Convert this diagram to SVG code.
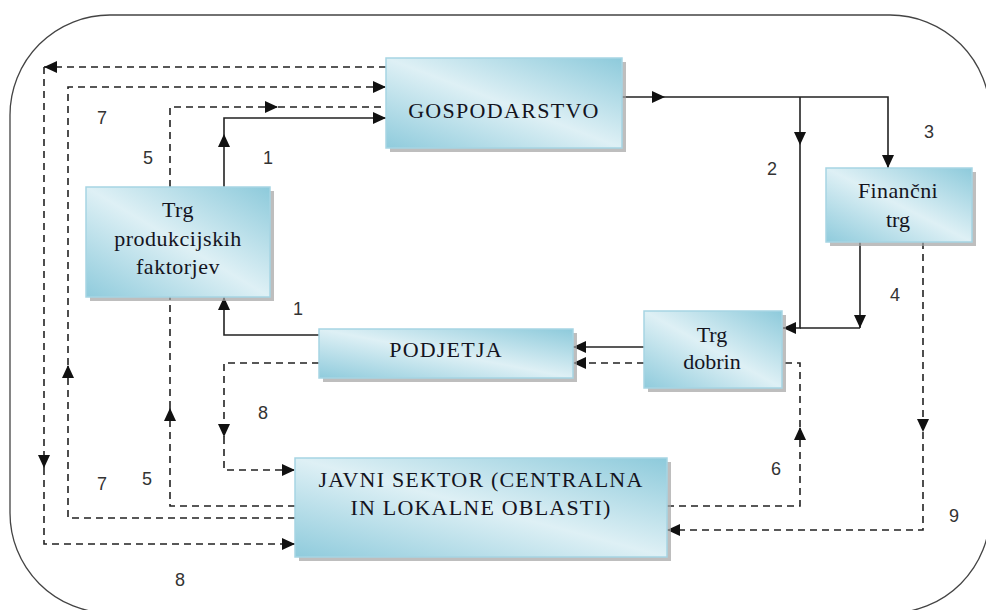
<svg xmlns="http://www.w3.org/2000/svg" width="986" height="610" viewBox="0 0 986 610">
<defs>
<linearGradient id="boxGrad" x1="0" y1="1" x2="1" y2="0">
<stop offset="0" stop-color="#8fcbdc"/>
<stop offset="0.5" stop-color="#def0f5"/>
<stop offset="1" stop-color="#8dcadb"/>
</linearGradient>
<marker id="arr" markerWidth="14" markerHeight="12" refX="13" refY="6" orient="auto" markerUnits="userSpaceOnUse">
<path d="M0,0 L13,6 L0,12 Z" fill="#111"/>
</marker>
</defs>
<style>
.box{fill:url(#boxGrad);stroke:#a6d5e3;stroke-width:1.5}
.shadow{fill:#a3a3a3;opacity:0.7}
.nt{font-size:22px;fill:#14141e;text-anchor:middle}
.sol{fill:none;stroke:#222;stroke-width:1.6}
.das{fill:none;stroke:#222;stroke-width:1.6;stroke-dasharray:7 5}
.lbl{font-size:18px;fill:#333;text-anchor:middle}
</style>
<rect x="10" y="15" width="980" height="598" rx="100" ry="100" fill="none" stroke="#444" stroke-width="1.3"/>
<g id="connectors">
<path class="sol" d="M224,187 V134" marker-end="url(#arr)"/>
<path class="sol" d="M224,134 V118 H386" marker-end="url(#arr)"/>
<path class="sol" d="M319,335 H224 V297" marker-end="url(#arr)"/>
<path class="sol" d="M622,97 H665" marker-end="url(#arr)"/>
<path class="sol" d="M665,97 H888 V168" marker-end="url(#arr)"/>
<path class="sol" d="M800,97 V145" marker-end="url(#arr)"/>
<path class="sol" d="M800,145 V328 H783" marker-end="url(#arr)"/>
<path class="sol" d="M860,242 V328" marker-end="url(#arr)"/>
<path class="sol" d="M860,328 H800"/>
<path class="sol" d="M644,347 H573" marker-end="url(#arr)"/>
<path class="das" d="M644,363 H573" marker-end="url(#arr)"/>
<path class="das" d="M667,506 H800 V427" marker-end="url(#arr)"/>
<path class="das" d="M800,427 V363 H782"/>
<path class="das" d="M923,242 V432" marker-end="url(#arr)"/>
<path class="das" d="M923,432 V530 H667" marker-end="url(#arr)"/>
<path class="das" d="M319,363 H224 V437" marker-end="url(#arr)"/>
<path class="das" d="M224,437 V470 H295" marker-end="url(#arr)"/>
<path class="das" d="M170,187 V107 H278" marker-end="url(#arr)"/>
<path class="das" d="M278,107 H386"/>
<path class="das" d="M295,506 H170 V408" marker-end="url(#arr)"/>
<path class="das" d="M170,408 V297"/>
<path class="das" d="M295,518 H68 V365" marker-end="url(#arr)"/>
<path class="das" d="M68,365 V87 H386" marker-end="url(#arr)"/>
<path class="das" d="M386,67 H44" marker-end="url(#arr)"/>
<path class="das" d="M44,67 V468" marker-end="url(#arr)"/>
<path class="das" d="M44,468 V544 H295" marker-end="url(#arr)"/>
</g>
<g font-family="'Liberation Serif', 'DejaVu Serif', 'Times New Roman', serif">
<g id="gospodarstvo">
<rect class="shadow" x="390" y="62" width="236" height="90"/>
<rect class="box" x="386" y="58" width="236" height="90"/>
<text class="nt" x="504" y="118" letter-spacing="1.3">GOSPODARSTVO</text>
</g>
<g id="trg-produkcijskih-faktorjev">
<rect class="shadow" x="90" y="191" width="184" height="110"/>
<rect class="box" x="86" y="187" width="184" height="110"/>
<text class="nt" x="178" y="217" letter-spacing="0.5">Trg</text>
<text class="nt" x="178" y="246" letter-spacing="0.5">produkcijskih</text>
<text class="nt" x="178" y="274" letter-spacing="0.5">faktorjev</text>
</g>
<g id="financni-trg">
<rect class="shadow" x="830" y="172" width="146" height="74"/>
<rect class="box" x="826" y="168" width="146" height="74"/>
<text class="nt" x="898" y="198" letter-spacing="0.4">Finančni</text>
<text class="nt" x="898" y="227">trg</text>
</g>
<g id="podjetja">
<rect class="shadow" x="323" y="333" width="254" height="49"/>
<rect class="box" x="319" y="329" width="254" height="49"/>
<text class="nt" x="446" y="357" letter-spacing="1.2">PODJETJA</text>
</g>
<g id="trg-dobrin">
<rect class="shadow" x="648" y="315" width="138" height="77"/>
<rect class="box" x="644" y="311" width="138" height="77"/>
<text class="nt" x="712" y="342">Trg</text>
<text class="nt" x="712" y="369">dobrin</text>
</g>
<g id="javni-sektor">
<rect class="shadow" x="299" y="462" width="372" height="99"/>
<rect class="box" x="295" y="458" width="372" height="99"/>
<text class="nt" x="481" y="487" letter-spacing="1.2">JAVNI SEKTOR (CENTRALNA</text>
<text class="nt" x="481" y="515" letter-spacing="1.2">IN LOKALNE OBLASTI)</text>
</g>
</g>
<g id="labels" font-family="'Liberation Sans', Arial, sans-serif">
<text class="lbl" x="102" y="124">7</text>
<text class="lbl" x="148" y="164">5</text>
<text class="lbl" x="268" y="164">1</text>
<text class="lbl" x="298" y="315">1</text>
<text class="lbl" x="772" y="175">2</text>
<text class="lbl" x="929" y="138">3</text>
<text class="lbl" x="895" y="301">4</text>
<text class="lbl" x="263" y="419">8</text>
<text class="lbl" x="102" y="490">7</text>
<text class="lbl" x="147" y="485">5</text>
<text class="lbl" x="180" y="586">8</text>
<text class="lbl" x="776" y="475">6</text>
<text class="lbl" x="954" y="522">9</text>
</g>
</svg>
